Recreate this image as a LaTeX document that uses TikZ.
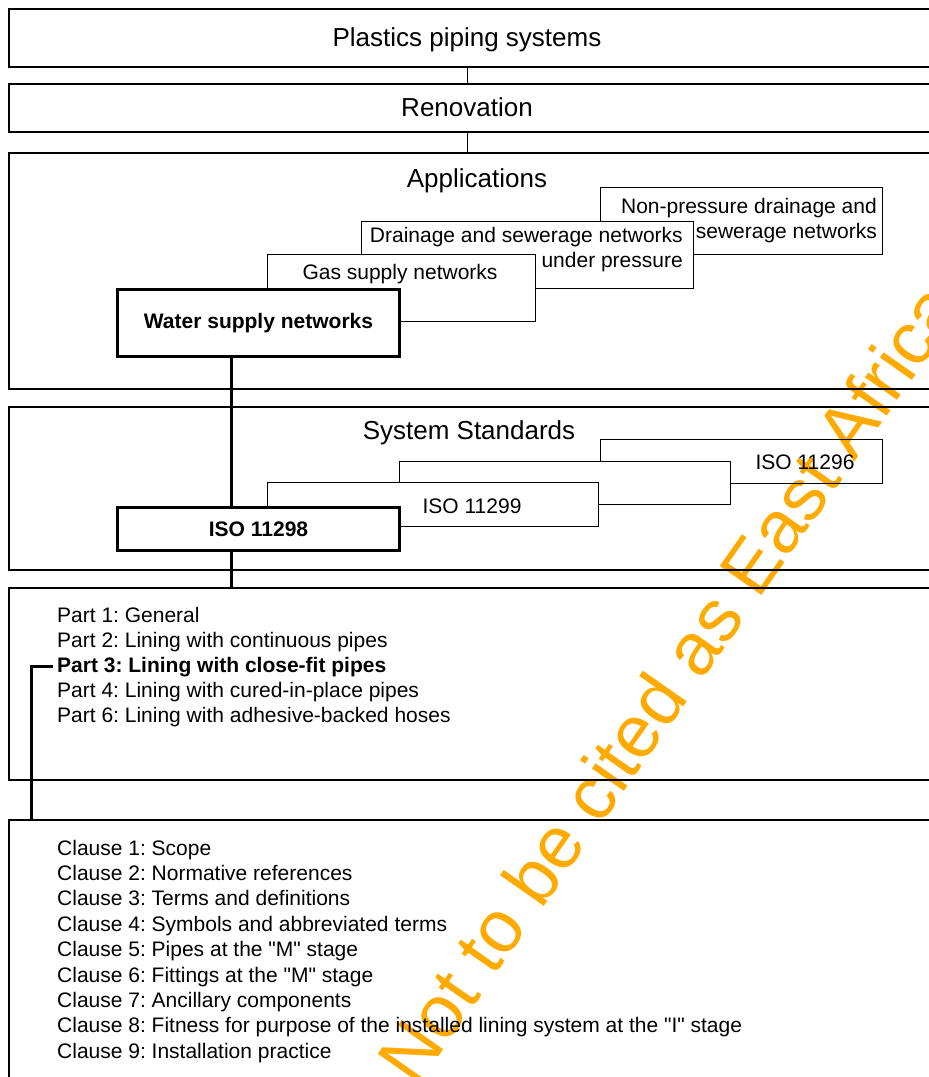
\documentclass[tikz,border=0pt]{standalone}
\usepackage{fontspec}
\setmainfont{Liberation Sans}
\definecolor{stampor}{RGB}{255,170,0}
\frenchspacing
\begin{document}
\begin{tikzpicture}[x=1pt,y=-1pt,
  frame/.style={draw,line width=2pt,anchor=north west,minimum width=950,inner sep=0pt},
  head/.style={anchor=base,inner sep=0pt,font=\fontsize{26}{31}\selectfont},
  sub/.style={draw,fill=white,line width=1pt,anchor=north west,inner sep=0pt,
    font=\fontsize{21}{25}\selectfont},
  lead/.style={sub,line width=3pt,font=\fontsize{21}{25}\selectfont\bfseries},
  txt/.style={inner sep=0pt,font=\fontsize{21}{25}\selectfont},
  entry/.style={txt,anchor=base west,inner xsep=4pt},
  spine/.style={line width=3pt},tie/.style={line width=1pt},
  stamp/.style={text=stampor,inner sep=0pt,anchor=base west,rotate=55,
    font=\fontsize{74}{80}\selectfont}]
  \useasboundingbox (0,0) rectangle (929,1077);
  % outer frames
  \node[frame,minimum height=58] (plastics) at (8,8) {};
  \node[frame,minimum height=48] (renov) at (8,83) {};
  \node[frame,minimum height=236] (appl) at (8,152) {};
  \node[frame,minimum height=163] (systd) at (8,406) {};
  \node[frame,minimum height=192] (parts) at (8,587) {};
  \node[frame,minimum height=300] (clauses) at (8,819) {};
  \node[head] (plasticsT) at (467,46) {Plastics piping systems};
  \node[head] (renovT) at (467,116) {Renovation};
  \node[head] (applT) at (477,187) {Applications};
  \node[head] (systdT) at (469,439) {System Standards};
  \draw[tie] (plasticsT |- plastics.south) -- (plasticsT |- renov.north);
  \draw[tie] (renovT |- renov.south) -- (renovT |- appl.north);
  % applications
  \node[sub,minimum width=282,minimum height=67] (nonpress) at (600,187) {};
  \node[txt,anchor=east,align=right] (nonpressT) at (877,221)
    {Non-pressure drainage and\\sewerage networks};
  \node[sub,minimum width=332,minimum height=67] (drain) at (361,221) {};
  \node[txt,anchor=east,align=right] (drainT) at (683,250)
    {Drainage and sewerage networks\\under pressure};
  \node[sub,minimum width=268,minimum height=67] (gas) at (267,254) {};
  \node[txt,anchor=base] (gasT) at (400,279) {Gas supply networks};
  \node[lead,minimum width=282,minimum height=67] (water) at (116,288)
    {Water supply networks};
  % system standards
  \node[sub,minimum width=282,minimum height=44] (iso6) at (600,439) {};
  \node[txt,anchor=base] (iso6T) at (805,469) {ISO 11296};
  \node[sub,minimum width=331,minimum height=43] (isoX) at (399,461) {};
  \node[sub,minimum width=331,minimum height=44] (iso9) at (267,482) {};
  \node[txt,anchor=base] (iso9T) at (472,513) {ISO 11299};
  \node[lead,minimum width=282,minimum height=43] (iso8) at (116,506) {ISO 11298};
  \coordinate (axis) at (231,0);
  \draw[spine] (axis |- water.south) -- (axis |- iso8.north)
    (axis |- iso8.south) -- (axis |- parts.north);
  % parts
  \node[entry] (p1) at (53,622) {Part 1: General};
  \node[entry] (p2) at (53,647) {Part 2: Lining with continuous pipes};
  \node[entry] (p3) at (53,672) {\textbf{Part 3: Lining with close-fit pipes}};
  \node[entry] (p4) at (53,697) {Part 4: Lining with cured-in-place pipes};
  \node[entry] (p6) at (53,722) {Part 6: Lining with adhesive-backed hoses};
  \draw[spine] (p3.west) -| ([xshift=23]clauses.north west);
  % clauses
  \foreach \t [count=\i] in {Scope,Normative references,Terms and definitions,
    Symbols and abbreviated terms,
    Pipes at the \textquotedbl M\textquotedbl{} stage,
    Fittings at the \textquotedbl M\textquotedbl{} stage,
    Ancillary components,
    Fitness for purpose of the installed lining system at the \textquotedbl I\textquotedbl{} stage,
    Installation practice}
    \node[entry] (c\i) at (53,{855+25.4*(\i-1)}) {Clause \i: \t};
  \begin{scope}[blend mode=multiply]
    \node[stamp] (notice) at (416,1089) {Not to be cited as East African Standard};
  \end{scope}
\end{tikzpicture}
\end{document}
